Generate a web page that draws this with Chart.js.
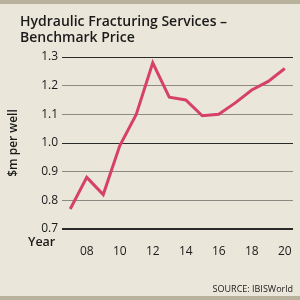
<!DOCTYPE html>
<html>
<head>
<meta charset="utf-8">
<script src="https://cdn.jsdelivr.net/npm/chart.js@4"></script>
<style>
  html, body { margin: 0; padding: 0; background: #ebe6da; }
</style>
</head>
<body>
<canvas id="grafico" width="300" height="300"></canvas>
<script>
// Dati
const anni = [2007, 2008, 2009, 2010, 2011, 2012, 2013, 2014, 2015, 2016, 2017, 2018, 2019, 2020];
const prezzi = [0.77, 0.88, 0.82, 0.99, 1.10, 1.28, 1.16, 1.15, 1.095, 1.10, 1.14, 1.185, 1.215, 1.26];
const tickAnni = [2008, 2010, 2012, 2014, 2016, 2018, 2020];
const titolo = ['Hydraulic Fracturing Services \u2013', 'Benchmark Price'];
const titoloAsseY = '$m per well';
const etichettaX = 'Year';
const fonte = 'SOURCE: IBISWorld';

const FONT = '"Open Sans", "Noto Sans", sans-serif';
// Colori e spessori delle linee di griglia, dal basso (0.7) all'alto (1.3)
const coloriGriglia = ['#2a2a2a', '#8c8a82', '#8c8a82', '#2a2a2a', '#8c8a82', '#8c8a82', '#2a2a2a'];
const spessoriGriglia = [2, 1, 1, 1, 1, 1, 1];

// Plugin: bande e testi
const decorazioni = {
  id: 'decorazioni',
  afterDraw(chart) {
    const c = chart.ctx;
    c.save();
    c.fillStyle = '#b8b29c';
    c.fillRect(0, 0, 300, 4);
    c.fillRect(0, 296, 300, 4);
    c.fillStyle = '#1a1a1a';
    c.textBaseline = 'middle';
    c.textAlign = 'left';
    c.font = '600 14px ' + FONT;
    c.fillText(titolo[0], 20, 22);
    c.fillText(titolo[1], 20, 38);
    c.font = '600 12.5px ' + FONT;
    c.fillText(etichettaX, 28, 242);
    c.font = '9px ' + FONT;
    c.textAlign = 'right';
    c.fillText(fonte, 293, 289);
    c.translate(14, 143);
    c.rotate(-Math.PI / 2);
    c.textAlign = 'center';
    c.font = '600 12px ' + FONT;
    c.fillText(titoloAsseY, 0, 0);
    c.restore();
  }
};

const grafico = new Chart(document.getElementById('grafico'), {
  type: 'line',
  data: {
    labels: anni,
    datasets: [{
      data: anni.map((a, i) => ({ x: a, y: prezzi[i] })),
      borderColor: '#d6416a',
      borderWidth: 3,
      pointRadius: 0,
      tension: 0,
      fill: false
    }]
  },
  options: {
    responsive: false,
    animation: false,
    layout: { padding: { top: 57, right: 7 } },
    plugins: { legend: { display: false }, tooltip: { enabled: false } },
    scales: {
      x: {
        type: 'linear',
        min: 2006.5,
        max: 2020.5,
        afterBuildTicks(scale) {
          scale.ticks = tickAnni.map(v => ({ value: v }));
        },
        afterFit(scale) { scale.height = 71; },
        grid: { display: false },
        border: { display: false },
        ticks: {
          padding: 7,
          maxRotation: 0,
          color: '#1a1a1a',
          font: { family: FONT, size: 12 },
          callback: v => String(v).slice(2)
        }
      },
      y: {
        min: 0.7,
        max: 1.3,
        afterFit(scale) { scale.width = 62; },
        ticks: {
          padding: 4,
          color: '#1a1a1a',
          font: { family: FONT, size: 12 }
        },
        border: { display: false },
        grid: {
          drawTicks: false,
          color: coloriGriglia,
          lineWidth: spessoriGriglia
        }
      }
    }
  },
  plugins: [decorazioni]
});
</script>
</body>
</html>
